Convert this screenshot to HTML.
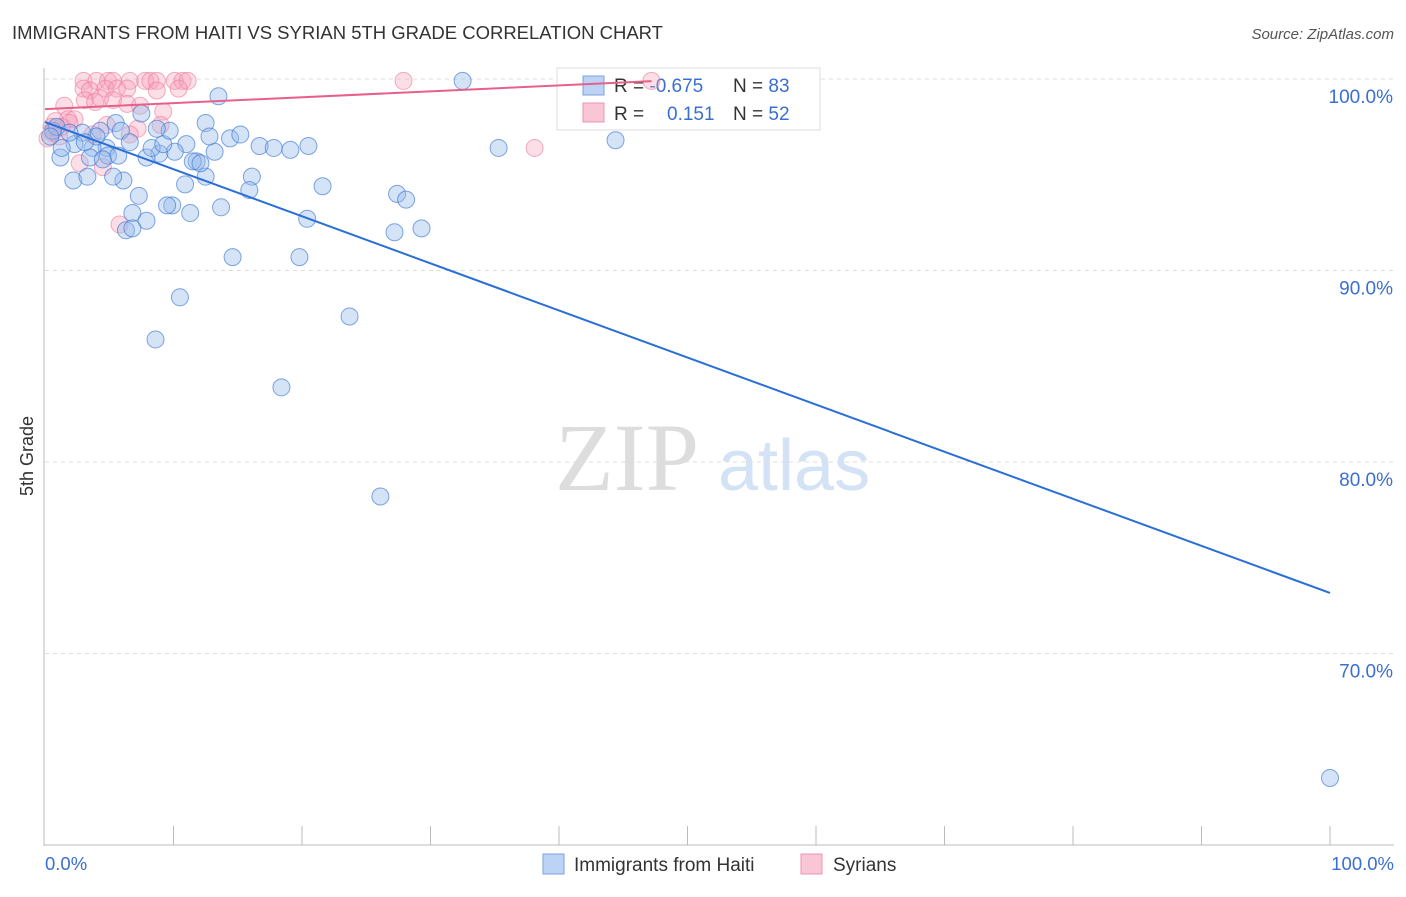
<!DOCTYPE html>
<html><head><meta charset="utf-8"><style>
body{margin:0;background:#fff;font-family:"Liberation Sans",sans-serif;}
</style></head><body>
<svg width="1406" height="892" xmlns="http://www.w3.org/2000/svg" style="font-family:'Liberation Sans',sans-serif">
<text x="12" y="39" font-size="18.5" fill="#333">IMMIGRANTS FROM HAITI VS SYRIAN 5TH GRADE CORRELATION CHART</text>
<text x="1394" y="39" font-size="15" fill="#555" text-anchor="end" font-style="italic">Source: ZipAtlas.com</text>
<text transform="translate(33,456) rotate(-90)" font-size="18" fill="#333" text-anchor="middle">5th Grade</text>
<g id="grid"></g>
<text x="555" y="490" font-size="96" fill="#ddd" font-family="Liberation Serif,serif">ZIP</text>
<text x="718" y="490" font-size="72" fill="#d4e2f5">atlas</text>
<g>
<rect x="557" y="68" width="263" height="62" fill="#fff" stroke="#ddd"/>
<rect x="583" y="76" width="21" height="19" fill="#bcd3f5" stroke="#7aa2e0"/>
<rect x="583" y="103" width="21" height="19" fill="#f9c6d5" stroke="#ee93ae"/>
<text x="614" y="92" font-size="19" fill="#333">R = <tspan fill="#3a6fd0">-0.675</tspan></text>
<text x="733" y="92" font-size="19" fill="#333">N = <tspan fill="#3a6fd0">83</tspan></text>
<text x="614" y="120" font-size="19" fill="#333">R = <tspan fill="#3a6fd0" x="667">0.151</tspan></text>
<text x="733" y="120" font-size="19" fill="#333">N = <tspan fill="#3a6fd0">52</tspan></text>
</g>
<g id="pts"></g>
<g id="lines"></g>
<line x1="44" y1="68" x2="44" y2="846" stroke="#bbb"/>
<line x1="44" y1="845" x2="1394" y2="845" stroke="#bbb"/>
<text x="45" y="870" font-size="18.5" fill="#3a6fd0">0.0%</text>
<text x="1394" y="870" font-size="18.5" fill="#3a6fd0" text-anchor="end">100.0%</text>
<g>
<rect x="543" y="854" width="21" height="20" fill="#bcd3f5" stroke="#7aa2e0"/>
<text x="574" y="871" font-size="19" fill="#333">Immigrants from Haiti</text></g>
<g>
<rect x="801" y="854" width="21" height="20" fill="#f9c6d5" stroke="#ee93ae"/>
<text x="833" y="871" font-size="19" fill="#333">Syrians</text></g>
</svg>
<script>
const yTicks=[100,90,80,70];
const haitiX=[32.5,13.5,44.4,35.3,18.4,26.1,100,23.7,8.6,10.5,14.6,19.8,27.2,29.3,20.4,27.4,28.1,21.6,16.1,15.9,13.7,11.3,9.9,9.5,7.9,6.8,6.3,6.8,7.3,6.1,5.3,2.2,3.3,10.9,12.5,11.8,11.5,12.1,13.2,14.4,15.2,16.7,17.8,19.1,20.5,12.5,12.8,11.0,10.1,8.9,7.9,8.3,9.2,9.7,8.7,7.5,5.5,5.9,6.6,4.8,4.9,5.7,3.7,3.5,4.3,4.0,2.9,2.3,1.2,1.3,0.6,0.9,1.9,3.1,4.5,0.4];
const haitiY=[99.9,99.1,96.8,96.4,83.9,78.2,63.5,87.6,86.4,88.6,90.7,90.7,92.0,92.2,92.7,94.0,93.7,94.4,94.9,94.2,93.3,93.0,93.4,93.4,92.6,93.0,92.1,92.2,93.9,94.7,94.9,94.7,94.9,94.5,94.9,95.7,95.7,95.6,96.2,96.9,97.1,96.5,96.4,96.3,96.5,97.7,97.0,96.6,96.2,96.1,95.9,96.4,96.6,97.3,97.4,98.2,97.7,97.3,96.7,96.4,96.0,96.0,96.4,95.9,97.3,97.0,97.2,96.6,95.9,96.4,97.3,97.5,97.2,96.7,95.8,97.0];
const syrX=[27.9,47.2,38.1,3.0,4.0,4.9,5.3,6.6,7.8,8.2,8.7,10.1,10.7,11.1,3.0,3.5,4.7,5.6,6.4,8.7,10.4,3.1,3.9,4.3,5.3,6.4,1.5,9.2,7.4,1.8,2.3,0.8,4.8,9.0,7.2,6.6,3.7,0.5,1.9,1.3,2.7,4.5,5.8,0.2,0.6,1.1];
const syrY=[99.9,99.9,96.4,99.9,99.9,99.9,99.9,99.9,99.9,99.9,99.9,99.9,99.9,99.9,99.5,99.4,99.5,99.5,99.5,99.4,99.5,98.9,98.8,99.0,98.9,98.7,98.6,98.3,98.6,97.9,97.9,97.8,97.6,97.6,97.4,97.1,97.1,97.5,97.7,97.5,95.6,95.4,92.4,96.9,97.2,97.0];
const haitiTrend=[97.75,73.16], syrTrend=[98.43,99.9], syrTrendEnd=47.2;
const NS='http://www.w3.org/2000/svg';
const xs=v=>45+v*12.85, ys=v=>79+(100-v)*19.15;
function mk(t,a,p){const e=document.createElementNS(NS,t);for(const k in a)e.setAttribute(k,a[k]);document.getElementById(p).appendChild(e);return e;}
yTicks.forEach(t=>{
 const l=mk('line',{x1:45,x2:1394,y1:ys(t),y2:ys(t),stroke:'#ddd','stroke-dasharray':'4,4'},'grid');
 
 
 const tx=mk('text',{x:1393,y:ys(t)+24,'font-size':19,fill:'#3a6fd0','text-anchor':'end'},'grid');
 tx.textContent=t.toFixed(1)+'%';
 
 
});
for(let i=1;i<=10;i++){const l=mk('line',{x1:xs(i*10),x2:xs(i*10),y1:826,y2:845,stroke:'#bbb'},'grid');
 
 }
syrX.forEach((x,i)=>{const c=mk('circle',{cx:xs(x),cy:ys(syrY[i]),r:8.5,fill:'rgba(245,160,185,0.35)',stroke:'rgba(236,120,155,0.6)'},'pts');
 
 });
haitiX.forEach((x,i)=>{const c=mk('circle',{cx:xs(x),cy:ys(haitiY[i]),r:8.5,fill:'rgba(150,185,235,0.4)',stroke:'rgba(60,120,210,0.65)'},'pts');
 
 });
const bl=mk('line',{x1:xs(0),y1:ys(haitiTrend[0]),x2:xs(100),y2:ys(haitiTrend[1]),stroke:'#2a6fd6','stroke-width':2},'lines');


const pl=mk('line',{x1:xs(0),y1:ys(syrTrend[0]),x2:xs(syrTrendEnd),y2:ys(syrTrend[0]+(syrTrend[1]-syrTrend[0])*syrTrendEnd/100*2.1),stroke:'#e8608a','stroke-width':2},'lines');


</script>
</body></html>
